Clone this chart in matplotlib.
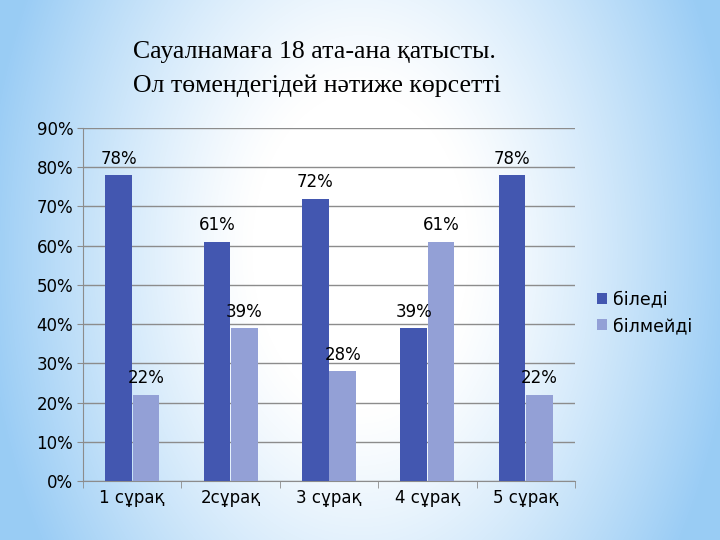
import numpy as np
import matplotlib
matplotlib.use("Agg")
import matplotlib.pyplot as plt
from matplotlib.ticker import FixedLocator, PercentFormatter

categories = ["1 сұрақ", "2сұрақ", "3 сұрақ", "4 сұрақ", "5 сұрақ"]
biledi = [78, 61, 72, 39, 78]
bilmeidi = [22, 39, 28, 61, 22]
series_names = ["біледі", "білмейді"]
title_lines = ["Сауалнамаға 18 ата-ана қатысты.", "Ол төмендегідей нәтиже көрсетті"]

c_dark = "#4357B0"
c_light = "#93A0D6"

fig = plt.figure(figsize=(7.2, 5.4), dpi=100)

# background gradient
bg = fig.add_axes([0, 0, 1, 1], zorder=-10)
h, w = 540, 720
yy, xx = np.mgrid[0:h, 0:w]
dx = (xx - 360) / 360.0
dy = (yy - 250) / 290.0
r = np.sqrt(dx ** 2 + (0.55 * dy) ** 2)
t = np.clip((r - 0.3) / 0.75, 0, 1) ** 1.2
edge = np.array([0.60, 0.80, 0.96])
white = np.array([1.0, 1.0, 1.0])
img = white[None, None, :] * (1 - t[..., None]) + edge[None, None, :] * t[..., None]
bg.imshow(img, aspect="auto", extent=[0, 1, 0, 1], origin="upper")
bg.axis("off")

ax = fig.add_axes([0.1153, 0.1093, 0.6833, 0.6537])
ax.set_facecolor("none")
x = np.arange(len(categories))
wbar = 0.272
off = 0.139
b1 = ax.bar(x - off, biledi, wbar, color=c_dark, label=series_names[0], zorder=3)
b2 = ax.bar(x + off, bilmeidi, wbar, color=c_light, label=series_names[1], zorder=3)
for bars, vals in ((b1, biledi), (b2, bilmeidi)):
    for rect, v in zip(bars, vals):
        ax.text(rect.get_x() + rect.get_width() / 2, v + 1.9, f"{v}%",
                ha="center", va="bottom", fontsize=12, color="black", zorder=4)

ax.set_xlim(-0.5, len(categories) - 0.5)
ax.set_ylim(0, 90)
ax.yaxis.set_major_locator(FixedLocator(np.arange(0, 91, 10)))
ax.yaxis.set_major_formatter(PercentFormatter(decimals=0))
ax.set_xticks(x)
ax.set_xticklabels(categories)
ax.xaxis.set_minor_locator(FixedLocator(np.arange(-0.5, len(categories), 1.0)))
ax.tick_params(axis="x", which="major", length=0, labelsize=12, pad=6)
ax.tick_params(axis="x", which="minor", length=5, color="#8c8c8c")
ax.tick_params(axis="y", length=4, color="#8c8c8c", labelsize=12, pad=3)
ax.grid(axis="y", color="#8c8c8c", linewidth=1, zorder=0)
for s in ["top", "right"]:
    ax.spines[s].set_visible(False)
for s in ["left", "bottom"]:
    ax.spines[s].set_color("#8c8c8c")

fig.legend(handles=[b1, b2], labels=series_names, loc="center left",
           bbox_to_anchor=(0.812, 0.421), frameon=False, fontsize=12.5,
           handlelength=0.6, handleheight=0.6, handletextpad=0.35, labelspacing=0.5,
           borderpad=0.2)

fig.text(133 / 720, 1 - 52 / 540, title_lines[0], family="Liberation Serif",
         fontsize=18.5, va="center", ha="left")
fig.text(133 / 720, 1 - 86 / 540, title_lines[1], family="Liberation Serif",
         fontsize=18.5, va="center", ha="left")

fig.savefig("out.png", dpi=100)
